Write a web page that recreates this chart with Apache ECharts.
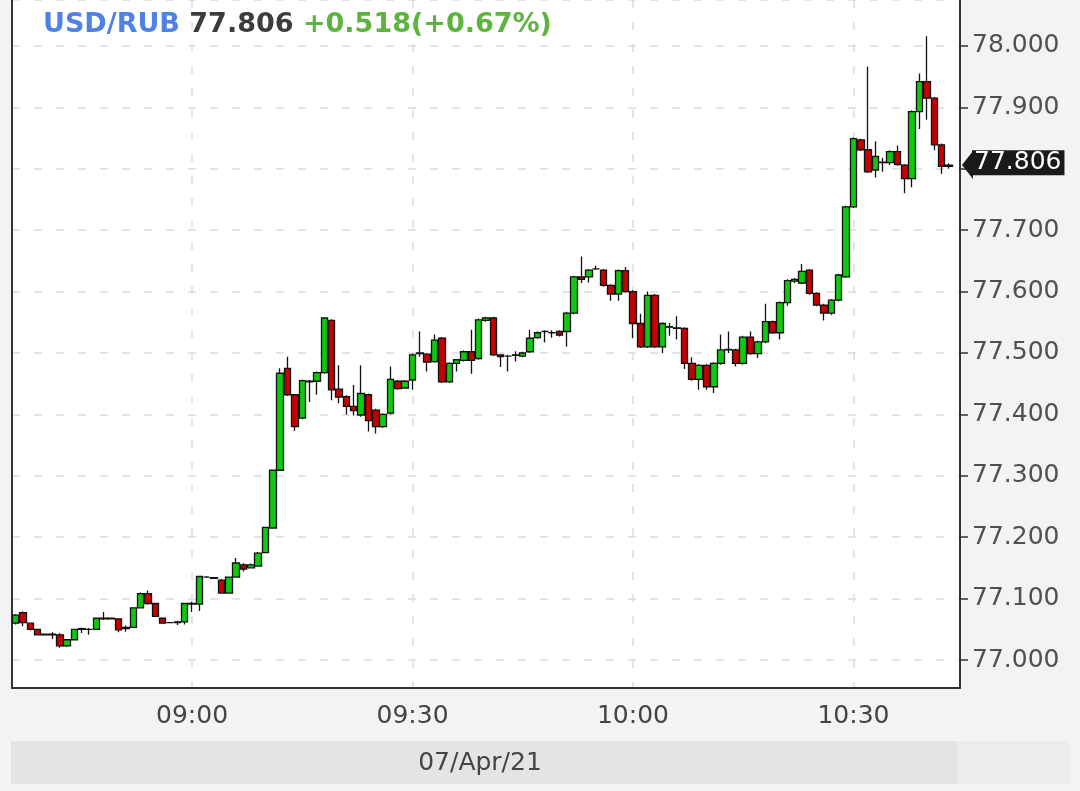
<!DOCTYPE html>
<html><head><meta charset="utf-8">
<script src="https://cdn.jsdelivr.net/npm/echarts@6/dist/echarts.min.js"></script>
<style>html,body{margin:0;padding:0;background:#f2f3f5;}#c{width:1080px;height:791px;}</style>
</head><body><div id="c"></div>
<script>
// ---- data ----
const pairName = 'USD/RUB';
const changeText = '+0.518(+0.67%)';
const dateLabel = '07/Apr/21';
const startHour = 8, startMinute = 36, slotCount = 129; // 08:36 .. 10:44 (last slot empty)
const times = [];
for (let i = 0; i < slotCount; i++) {
  const m = startHour * 60 + startMinute + i;
  times.push(String(Math.floor(m / 60)).padStart(2, '0') + ':' + String(m % 60).padStart(2, '0'));
}
const opens = [77.060,77.077,77.060,77.050,77.042,77.042,77.041,77.023,77.033,77.050,
77.050,77.050,77.067,77.068,77.067,77.051,77.053,77.085,77.108,77.092,
77.068,77.061,77.061,77.062,77.091,77.091,77.135,77.134,77.130,77.109,
77.135,77.155,77.150,77.153,77.175,77.215,77.309,77.475,77.432,77.394,
77.453,77.454,77.468,77.553,77.441,77.429,77.413,77.399,77.432,77.407,
77.380,77.402,77.454,77.443,77.456,77.499,77.498,77.486,77.524,77.453,
77.483,77.488,77.502,77.491,77.553,77.557,77.497,77.495,77.497,77.495,
77.502,77.525,77.535,77.533,77.535,77.535,77.565,77.624,77.624,77.637,
77.635,77.610,77.596,77.634,77.600,77.548,77.510,77.594,77.510,77.543,
77.541,77.540,77.483,77.457,77.480,77.445,77.483,77.505,77.505,77.483,
77.526,77.499,77.518,77.551,77.533,77.582,77.617,77.614,77.635,77.597,
77.578,77.565,77.586,77.624,77.738,77.847,77.831,77.798,77.810,77.810,
77.828,77.806,77.784,77.893,77.942,77.915,77.839,77.804];
const closes = [77.073,77.061,77.050,77.041,77.041,77.041,77.023,77.033,77.050,77.051,
77.050,77.068,77.068,77.067,77.049,77.053,77.085,77.108,77.092,77.071,
77.060,77.061,77.062,77.092,77.092,77.136,77.135,77.133,77.109,77.135,
77.158,77.148,77.155,77.174,77.216,77.309,77.467,77.432,77.380,77.455,
77.454,77.468,77.557,77.440,77.428,77.413,77.406,77.434,77.390,77.380,
77.400,77.457,77.442,77.454,77.497,77.500,77.485,77.521,77.453,77.483,
77.489,77.502,77.488,77.554,77.557,77.497,77.494,77.495,77.496,77.500,
77.524,77.533,77.535,77.533,77.529,77.565,77.624,77.620,77.635,77.637,
77.610,77.596,77.634,77.600,77.548,77.510,77.594,77.510,77.548,77.542,
77.540,77.483,77.457,77.480,77.445,77.483,77.505,77.506,77.483,77.526,
77.499,77.518,77.551,77.533,77.582,77.618,77.620,77.633,77.597,77.578,
77.565,77.586,77.627,77.738,77.849,77.831,77.795,77.820,77.811,77.828,
77.807,77.784,77.893,77.942,77.915,77.839,77.804,77.806];
const lows = [77.058,77.055,77.048,77.040,77.040,77.034,77.020,77.021,77.032,77.044,
77.041,77.049,77.065,77.066,77.045,77.046,77.052,77.084,77.090,77.070,
77.059,77.060,77.057,77.058,77.078,77.080,77.134,77.132,77.108,77.108,
77.134,77.144,77.149,77.152,77.174,77.214,77.308,77.430,77.373,77.392,
77.420,77.432,77.466,77.423,77.418,77.400,77.398,77.396,77.372,77.369,
77.378,77.400,77.440,77.442,77.440,77.494,77.470,77.484,77.451,77.451,
77.470,77.486,77.466,77.489,77.551,77.495,77.477,77.470,77.486,77.493,
77.500,77.523,77.517,77.525,77.527,77.510,77.563,77.614,77.615,77.635,
77.608,77.585,77.585,77.598,77.524,77.508,77.508,77.508,77.500,77.528,
77.522,77.474,77.455,77.440,77.440,77.435,77.481,77.500,77.478,77.481,
77.497,77.492,77.516,77.531,77.522,77.577,77.614,77.612,77.595,77.576,
77.553,77.562,77.584,77.622,77.736,77.829,77.793,77.786,77.795,77.806,
77.805,77.760,77.770,77.865,77.880,77.830,77.792,77.800];
const highs = [77.075,77.079,77.061,77.051,77.043,77.045,77.044,77.034,77.051,77.053,
77.052,77.069,77.078,77.069,77.068,77.056,77.086,77.110,77.113,77.093,
77.069,77.062,77.064,77.093,77.095,77.137,77.137,77.135,77.132,77.136,
77.166,77.158,77.157,77.176,77.217,77.310,77.475,77.494,77.433,77.457,
77.456,77.470,77.558,77.555,77.480,77.431,77.448,77.480,77.434,77.409,
77.402,77.478,77.456,77.456,77.499,77.535,77.500,77.530,77.526,77.485,
77.490,77.504,77.538,77.556,77.559,77.559,77.498,77.497,77.503,77.502,
77.538,77.535,77.537,77.537,77.537,77.567,77.626,77.657,77.637,77.642,
77.637,77.612,77.636,77.640,77.602,77.564,77.600,77.596,77.550,77.549,
77.560,77.542,77.493,77.482,77.482,77.485,77.530,77.535,77.507,77.528,
77.535,77.520,77.580,77.553,77.584,77.620,77.622,77.645,77.637,77.599,
77.580,77.588,77.629,77.740,77.851,77.849,77.966,77.845,77.818,77.830,
77.838,77.808,77.895,77.955,78.016,77.917,77.841,77.809];
const yMin = 76.9544, yMax = 78.0749;

// ---- chart ----
const lastClose = closes[closes.length - 1];
const candles = opens.map((o, i) => [o, closes[i], lows[i], highs[i]]);
const FONT = 'DejaVu Sans';
const isMajor = (idx, val) => /:(00|30)$/.test(val);
const chart = echarts.init(document.getElementById('c'), null, {renderer: 'canvas'});
chart.setOption({
  animation: false,
  backgroundColor: '#f2f3f5',
  title: {
    left: 38, top: 3,
    text: '{a|' + pairName + '} {b|' + lastClose.toFixed(3) + '} {c|' + changeText + '}',
    textStyle: {
      fontFamily: FONT, fontSize: 27, fontWeight: 'bold', lineHeight: 33,
      rich: {
        a: {color: '#4e82e4', fontFamily: FONT, fontSize: 27, fontWeight: 'bold'},
        b: {color: '#3c3c3c', fontFamily: FONT, fontSize: 27, fontWeight: 'bold'},
        c: {color: '#5cb33e', fontFamily: FONT, fontSize: 27, fontWeight: 'bold'}
      }
    }
  },
  grid: {left: 12, right: 120, top: 0, bottom: 103, show: true, backgroundColor: '#ffffff', borderWidth: 0},
  xAxis: {
    type: 'category', data: times, boundaryGap: true,
    axisLine: {lineStyle: {color: '#333', width: 2}},
    axisTick: {alignWithLabel: true, interval: isMajor, length: 9, lineStyle: {color: '#333', width: 1.5}},
    axisLabel: {interval: isMajor, fontFamily: FONT, fontSize: 25, color: '#444', margin: 16},
    splitLine: {show: true, alignWithLabel: true, interval: isMajor, lineStyle: {color: '#dcdcdc', type: [8, 14], width: 1.5}}
  },
  yAxis: [{
    type: 'value', position: 'right', min: yMin, max: yMax, scale: true,
    splitNumber: 11, minInterval: 0.1, maxInterval: 0.1,
    axisLine: {show: true, lineStyle: {color: '#333', width: 2}},
    axisTick: {show: true, length: 8, lineStyle: {color: '#333', width: 1.5}},
    axisLabel: {fontFamily: FONT, fontSize: 25, color: '#505050', margin: 12, padding: [4, 0, 0, 0], showMinLabel: false, showMaxLabel: false,
      formatter: v => v.toFixed(3)},
    splitLine: {show: true, lineStyle: {color: '#dcdcdc', type: [8, 14], width: 1.5}}
  }, {
    type: 'value', position: 'left', min: yMin, max: yMax,
    axisLine: {show: true, lineStyle: {color: '#333', width: 2}},
    axisTick: {show: false}, axisLabel: {show: false}, splitLine: {show: false}
  }],
  series: [{
    type: 'candlestick', data: candles, barWidth: 7,
    itemStyle: {color: '#10c810', color0: '#c40000', borderColor: '#111', borderColor0: '#111', borderWidth: 1.3},
    markLine: {
      silent: true, symbol: 'none', animation: false,
      lineStyle: {width: 0, color: 'rgba(0,0,0,0)'},
      label: {
        show: true, position: 'end', distance: 12, color: '#fff',
        formatter: () => '{box|' + lastClose.toFixed(3) + '}',
        rich: {box: {backgroundColor: '#1a1a1a', color: '#ffffff', fontFamily: FONT, fontSize: 25, lineHeight: 28, padding: [0, 3, 0, 2]}}
      },
      data: [{yAxis: lastClose}]
    }
  }]
});
const py = chart.convertToPixel({yAxisIndex: 0}, lastClose);
chart.setOption({
  graphic: [
    {type: 'polygon', shape: {points: [[962, py], [973, py - 14], [973, py + 14]]}, style: {fill: '#1a1a1a'}, z: 100},
    {type: 'rect', shape: {x: 11, y: 741, width: 946, height: 43}, style: {fill: '#e3e4e6'}, z: -1},
    {type: 'rect', shape: {x: 957, y: 741, width: 113, height: 43}, style: {fill: '#ebecee'}, z: -1},
    {type: 'text', x: 480, y: 763, style: {text: dateLabel, font: '25px "DejaVu Sans"', fill: '#444', textAlign: 'center', textVerticalAlign: 'middle'}}
  ]
});
</script></body></html>
